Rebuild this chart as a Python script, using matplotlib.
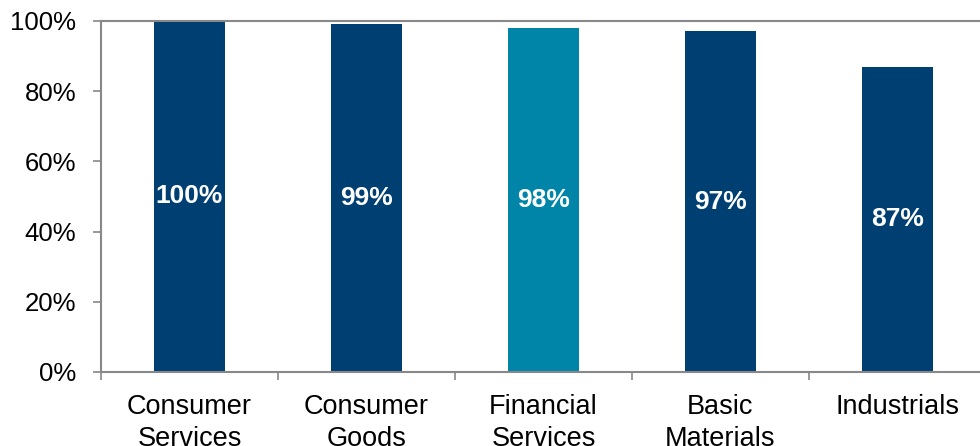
import matplotlib
matplotlib.use("Agg")
import matplotlib.pyplot as plt
import numpy as np

plt.rcParams['font.family'] = ['Liberation Sans', 'DejaVu Sans']

categories = ["Consumer\nServices", "Consumer\nGoods", "Financial\nServices",
              "Basic\nMaterials", "Industrials"]
values = [100, 99, 98, 97, 87]
bar_colors = ["#003F72", "#003F72", "#0085A8", "#003F72", "#003F72"]

fig = plt.figure(figsize=(9.8, 4.46), dpi=100)
ax = fig.add_axes([0.1031, 0.166, 0.9029, 0.787])

x = np.arange(len(categories))
bars = ax.bar(x, values, width=0.4, color=bar_colors, zorder=2)

for b, v in zip(bars, values):
    ax.text(b.get_x() + b.get_width() / 2, v / 2, f"{v}%",
            ha="center", va="center", color="white",
            fontsize=19, fontweight="bold")

ax.set_xlim(-0.5, len(categories) - 0.5)
ax.set_ylim(0, 100)
ax.set_yticks(np.arange(0, 101, 20))
ax.set_yticklabels([f"{t}%" for t in range(0, 101, 20)], fontsize=18.5)

ax.set_xticks(x)
ax.set_xticklabels(categories, fontsize=19.5, linespacing=1.3)
ax.set_xticks(np.arange(-0.5, len(categories)), minor=True)
ax.tick_params(axis="x", which="major", length=0, pad=16)
ax.tick_params(axis="x", which="minor", length=6, color="#888888", width=1.2)
ax.tick_params(axis="y", length=6, color="#888888", width=1.2, pad=12)

for side in ["left", "bottom", "top"]:
    ax.spines[side].set_color("#888888")
    ax.spines[side].set_linewidth(1.5)
ax.spines["right"].set_visible(False)

fig.savefig("out.png", dpi=100)
